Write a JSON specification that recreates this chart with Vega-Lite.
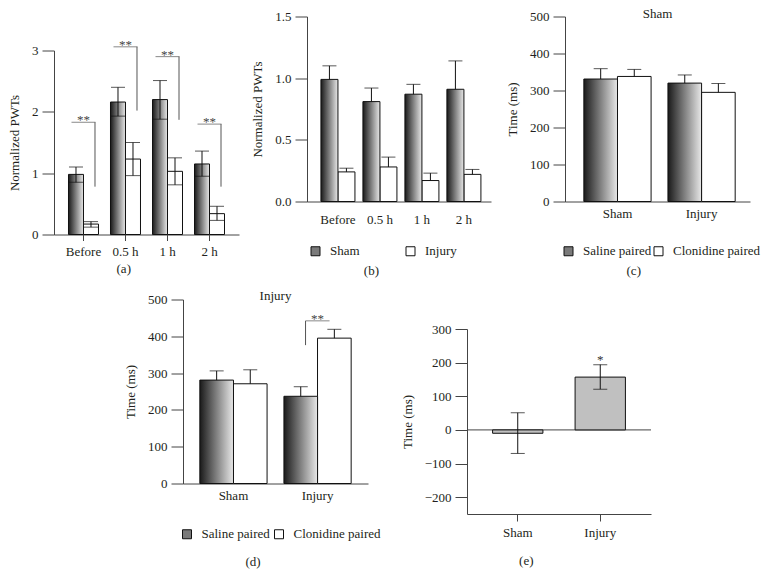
{
  "$schema": "https://vega.github.io/schema/vega-lite/v6.json",
  "padding": {"left": 8, "top": 7.5, "right": 0, "bottom": 0},
  "datasets": {
    "a": [
      {"time": "Before", "group": "Sham", "mean": 0.98, "lo": 0.85, "hi": 1.10},
      {"time": "Before", "group": "Injury", "mean": 0.17, "lo": 0.12, "hi": 0.21},
      {"time": "0.5 h", "group": "Sham", "mean": 2.16, "lo": 1.93, "hi": 2.40},
      {"time": "0.5 h", "group": "Injury", "mean": 1.23, "lo": 0.96, "hi": 1.50},
      {"time": "1 h", "group": "Sham", "mean": 2.20, "lo": 1.88, "hi": 2.51},
      {"time": "1 h", "group": "Injury", "mean": 1.03, "lo": 0.81, "hi": 1.25},
      {"time": "2 h", "group": "Sham", "mean": 1.15, "lo": 0.95, "hi": 1.36},
      {"time": "2 h", "group": "Injury", "mean": 0.34, "lo": 0.23, "hi": 0.46}
    ],
    "a_sig": [
      {"time": "Before", "top": 1.83, "low": 0.78, "label": "**"},
      {"time": "0.5 h", "top": 3.06, "low": 2.02, "label": "**"},
      {"time": "1 h", "top": 2.90, "low": 1.87, "label": "**"},
      {"time": "2 h", "top": 1.80, "low": 0.78, "label": "**"}
    ],
    "b": [
      {"time": "Before", "group": "Sham", "mean": 0.99, "hi": 1.10},
      {"time": "Before", "group": "Injury", "mean": 0.24, "hi": 0.27},
      {"time": "0.5 h", "group": "Sham", "mean": 0.81, "hi": 0.92},
      {"time": "0.5 h", "group": "Injury", "mean": 0.28, "hi": 0.36},
      {"time": "1 h", "group": "Sham", "mean": 0.87, "hi": 0.95},
      {"time": "1 h", "group": "Injury", "mean": 0.17, "hi": 0.23},
      {"time": "2 h", "group": "Sham", "mean": 0.91, "hi": 1.14},
      {"time": "2 h", "group": "Injury", "mean": 0.22, "hi": 0.26}
    ],
    "c": [
      {"cat": "Sham", "group": "Saline paired", "mean": 331, "hi": 359},
      {"cat": "Sham", "group": "Clonidine paired", "mean": 338, "hi": 357},
      {"cat": "Injury", "group": "Saline paired", "mean": 320, "hi": 342},
      {"cat": "Injury", "group": "Clonidine paired", "mean": 295, "hi": 319}
    ],
    "d": [
      {"cat": "Sham", "group": "Saline paired", "mean": 281, "hi": 306},
      {"cat": "Sham", "group": "Clonidine paired", "mean": 271, "hi": 309},
      {"cat": "Injury", "group": "Saline paired", "mean": 237, "hi": 263},
      {"cat": "Injury", "group": "Clonidine paired", "mean": 395, "hi": 419}
    ],
    "d_sig": [
      {"cat": "Injury", "top": 442, "low": 376, "label": "**"}
    ],
    "e": [
      {"cat": "Sham", "mean": -10, "lo": -70, "hi": 51},
      {"cat": "Injury", "mean": 157, "lo": 121, "hi": 194}
    ],
    "e_sig": [
      {"cat": "Injury", "top": 194, "label": "*"}
    ],
    "zero": [
      {"z": 0}
    ]
  },
  "spacing": 12,
  "resolve": {"scale": {"fill": "independent"}, "legend": {"fill": "independent"}},
  "vconcat": [
    {
      "spacing": 12,
      "resolve": {"scale": {"fill": "independent"}, "legend": {"fill": "independent"}},
      "hconcat": [
        {
          "spacing": 21,
          "vconcat": [
            {"data": {"values": []}, "mark": "point", "width": 1, "height": 1},
            {
              "width": 185,
              "height": 184,
              "data": {"name": "a"},
              "title": {"text": "(a)", "orient": "bottom", "anchor": "middle", "frame": "bounds", "offset": 4},
              "encoding": {
                "x": {"field": "time", "type": "nominal", "sort": null,
                  "scale": {"type": "band", "domain": ["Before", "0.5 h", "1 h", "2 h"], "paddingInner": 0.286, "paddingOuter": 0.345, "align": 0.5},
                  "axis": {"title": null, "labelAngle": 0, "ticks": true, "tickSize": 6, "labelPadding": 5}}
              },
              "layer": [
                {
                  "transform": [{"filter": "datum.group === 'Injury'"}],
                  "mark": {"type": "bar", "fill": "#ffffff", "stroke": "#111111", "strokeWidth": 1, "width": {"band": 0.5}, "xOffset": 7.5},
                  "encoding": {"y": {"field": "mean", "type": "quantitative", "title": "Normalized PWTs", "scale": {"domain": [0, 3], "nice": false}, "axis": {"values": [0, 1, 2, 3], "format": "d"}}}
                },
                {
                  "transform": [{"filter": "datum.group === 'Sham'"}],
                  "mark": {"type": "bar", "stroke": "#111111", "strokeWidth": 1, "width": {"band": 0.5}, "xOffset": -7.5,
                    "fill": {"gradient": "linear", "x1": 0, "y1": 0, "x2": 1, "y2": 0, "stops": [{"offset": 0, "color": "#1a1a1a"}, {"offset": 1, "color": "#e8e8e8"}]}},
                  "encoding": {"y": {"field": "mean", "type": "quantitative", "title": "Normalized PWTs", "scale": {"domain": [0, 3], "nice": false}, "axis": {"values": [0, 1, 2, 3], "format": "d"}}}
                },
                {
                  "transform": [{"filter": "datum.group === 'Sham'"}],
                  "mark": {"type": "rule", "color": "#111111", "strokeWidth": 1, "xOffset": -7.5},
                  "encoding": {"y": {"field": "lo", "type": "quantitative", "title": "Normalized PWTs", "scale": {"domain": [0, 3], "nice": false}, "axis": {"values": [0, 1, 2, 3], "format": "d"}}, "y2": {"field": "hi"}}
                },
                {
                  "transform": [{"filter": "datum.group === 'Injury'"}],
                  "mark": {"type": "rule", "color": "#111111", "strokeWidth": 1, "xOffset": 7.5},
                  "encoding": {"y": {"field": "lo", "type": "quantitative", "title": "Normalized PWTs", "scale": {"domain": [0, 3], "nice": false}, "axis": {"values": [0, 1, 2, 3], "format": "d"}}, "y2": {"field": "hi"}}
                },
                {
                  "transform": [{"filter": "datum.group === 'Sham'"}, {"fold": ["lo", "hi"], "as": ["end", "v"]}],
                  "mark": {"type": "tick", "color": "#111111", "size": 14, "thickness": 1, "xOffset": -7.5},
                  "encoding": {"y": {"field": "v", "type": "quantitative", "title": "Normalized PWTs", "scale": {"domain": [0, 3], "nice": false}, "axis": {"values": [0, 1, 2, 3], "format": "d"}}}
                },
                {
                  "transform": [{"filter": "datum.group === 'Injury'"}, {"fold": ["lo", "hi"], "as": ["end", "v"]}],
                  "mark": {"type": "tick", "color": "#111111", "size": 14, "thickness": 1, "xOffset": 7.5},
                  "encoding": {"y": {"field": "v", "type": "quantitative", "title": "Normalized PWTs", "scale": {"domain": [0, 3], "nice": false}, "axis": {"values": [0, 1, 2, 3], "format": "d"}}}
                },
                {
                  "data": {"name": "a_sig"},
                  "mark": {"type": "tick", "color": "#555555", "size": 24, "thickness": 1},
                  "encoding": {"y": {"field": "top", "type": "quantitative", "title": "Normalized PWTs", "scale": {"domain": [0, 3], "nice": false}, "axis": {"values": [0, 1, 2, 3], "format": "d"}}}
                },
                {
                  "data": {"name": "a_sig"},
                  "mark": {"type": "rule", "color": "#555555", "strokeWidth": 1, "xOffset": 11.5},
                  "encoding": {"y": {"field": "low", "type": "quantitative", "title": "Normalized PWTs", "scale": {"domain": [0, 3], "nice": false}, "axis": {"values": [0, 1, 2, 3], "format": "d"}}, "y2": {"field": "top"}}
                },
                {
                  "data": {"name": "a_sig"},
                  "mark": {"type": "text", "color": "#444444", "fontSize": 13, "baseline": "alphabetic", "dy": 2},
                  "encoding": {"y": {"field": "top", "type": "quantitative", "title": "Normalized PWTs", "scale": {"domain": [0, 3], "nice": false}, "axis": {"values": [0, 1, 2, 3], "format": "d"}}, "text": {"field": "label"}}
                }
              ]
            }
          ]
        },
        {
          "spacing": 15,
          "resolve": {"scale": {"fill": "independent"}, "legend": {"fill": "independent"}},
          "hconcat": [
            {
              "width": 184,
              "height": 185,
              "data": {"name": "b"},
              "title": {"text": "(b)", "orient": "bottom", "anchor": "middle", "frame": "bounds", "offset": 6},
              "encoding": {
                "x": {"field": "time", "type": "nominal", "sort": null,
                  "scale": {"type": "band", "domain": ["Before", "0.5 h", "1 h", "2 h"], "paddingInner": 0.19, "paddingOuter": 0.286, "align": 0.58},
                  "axis": {"title": null, "labelAngle": 0, "labelPadding": 12}}
              },
              "layer": [
                {
                  "transform": [{"filter": "datum.group === 'Injury'"}],
                  "mark": {"type": "bar", "stroke": "#111111", "strokeWidth": 1, "width": {"band": 0.5}, "xOffset": 8.5},
                  "encoding": {
                    "y": {"field": "mean", "type": "quantitative", "title": "Normalized PWTs", "scale": {"domain": [0, 1.5], "nice": false}, "axis": {"values": [0, 0.5, 1, 1.5], "format": ".1f"}},
                    "fill": {"field": "group", "type": "nominal",
                      "scale": {"domain": ["Sham", "Injury"], "range": ["#7a7a7a", "#ffffff"]},
                      "legend": {"orient": "none", "legendX": 2, "legendY": 228, "direction": "horizontal", "title": null,
                        "columnPadding": 44, "symbolType": "square", "symbolSize": 81, "symbolStrokeColor": "#111111", "symbolStrokeWidth": 1,
                        "labelFontSize": 13, "labelOffset": 8}}
                  }
                },
                {
                  "transform": [{"filter": "datum.group === 'Sham'"}],
                  "mark": {"type": "bar", "stroke": "#111111", "strokeWidth": 1, "width": {"band": 0.5}, "xOffset": -8.5,
                    "fill": {"gradient": "linear", "x1": 0, "y1": 0, "x2": 1, "y2": 0, "stops": [{"offset": 0, "color": "#1a1a1a"}, {"offset": 1, "color": "#e8e8e8"}]}},
                  "encoding": {"y": {"field": "mean", "type": "quantitative", "title": "Normalized PWTs", "scale": {"domain": [0, 1.5], "nice": false}, "axis": {"values": [0, 0.5, 1, 1.5], "format": ".1f"}}}
                },
                {
                  "transform": [{"filter": "datum.group === 'Sham'"}],
                  "mark": {"type": "rule", "color": "#111111", "strokeWidth": 1, "xOffset": -8.5},
                  "encoding": {"y": {"field": "mean", "type": "quantitative", "title": "Normalized PWTs", "scale": {"domain": [0, 1.5], "nice": false}, "axis": {"values": [0, 0.5, 1, 1.5], "format": ".1f"}}, "y2": {"field": "hi"}}
                },
                {
                  "transform": [{"filter": "datum.group === 'Injury'"}],
                  "mark": {"type": "rule", "color": "#111111", "strokeWidth": 1, "xOffset": 8.5},
                  "encoding": {"y": {"field": "mean", "type": "quantitative", "title": "Normalized PWTs", "scale": {"domain": [0, 1.5], "nice": false}, "axis": {"values": [0, 0.5, 1, 1.5], "format": ".1f"}}, "y2": {"field": "hi"}}
                },
                {
                  "transform": [{"filter": "datum.group === 'Sham'"}],
                  "mark": {"type": "tick", "color": "#111111", "size": 14, "thickness": 1, "xOffset": -8.5},
                  "encoding": {"y": {"field": "hi", "type": "quantitative", "title": "Normalized PWTs", "scale": {"domain": [0, 1.5], "nice": false}, "axis": {"values": [0, 0.5, 1, 1.5], "format": ".1f"}}}
                },
                {
                  "transform": [{"filter": "datum.group === 'Injury'"}],
                  "mark": {"type": "tick", "color": "#111111", "size": 14, "thickness": 1, "xOffset": 8.5},
                  "encoding": {"y": {"field": "hi", "type": "quantitative", "title": "Normalized PWTs", "scale": {"domain": [0, 1.5], "nice": false}, "axis": {"values": [0, 0.5, 1, 1.5], "format": ".1f"}}}
                }
              ]
            },
            {
              "title": {"text": "(c)", "orient": "bottom", "anchor": "middle", "frame": "bounds", "offset": 6},
              "resolve": {"scale": {"fill": "independent"}, "legend": {"fill": "independent"}},
              "vconcat": [
                {
                  "width": 185,
                  "height": 185,
                  "data": {"name": "c"},
                  "title": {"text": "Sham", "orient": "top", "anchor": "middle", "frame": "group", "offset": -10.3},
                  "encoding": {
                    "x": {"field": "cat", "type": "nominal", "sort": null,
                      "scale": {"type": "band", "domain": ["Sham", "Injury"], "paddingInner": 0.2, "paddingOuter": 0.2, "align": 0.56},
                      "axis": {"title": null, "labelAngle": 0, "labelPadding": 6}}
                  },
                  "layer": [
                    {
                      "transform": [{"filter": "datum.group === 'Clonidine paired'"}],
                      "mark": {"type": "bar", "stroke": "#111111", "strokeWidth": 1, "width": {"band": 0.5}, "xOffset": 16.8},
                      "encoding": {
                        "y": {"field": "mean", "type": "quantitative", "title": "Time (ms)", "scale": {"domain": [0, 500], "nice": false}, "axis": {"values": [0, 100, 200, 300, 400, 500]}},
                        "fill": {"field": "group", "type": "nominal",
                          "scale": {"domain": ["Saline paired", "Clonidine paired"], "range": ["#7a7a7a", "#ffffff"]},
                          "legend": {"orient": "none", "legendX": -3, "legendY": 228, "direction": "horizontal", "title": null,
                            "columnPadding": 0, "symbolType": "square", "symbolSize": 81, "symbolStrokeColor": "#111111", "symbolStrokeWidth": 1,
                            "labelFontSize": 13, "labelOffset": 8}}
                      }
                    },
                    {
                      "transform": [{"filter": "datum.group === 'Saline paired'"}],
                      "mark": {"type": "bar", "stroke": "#111111", "strokeWidth": 1, "width": {"band": 0.5}, "xOffset": -16.8,
                        "fill": {"gradient": "linear", "x1": 0, "y1": 0, "x2": 1, "y2": 0, "stops": [{"offset": 0, "color": "#1a1a1a"}, {"offset": 1, "color": "#e8e8e8"}]}},
                      "encoding": {"y": {"field": "mean", "type": "quantitative", "title": "Time (ms)", "scale": {"domain": [0, 500], "nice": false}, "axis": {"values": [0, 100, 200, 300, 400, 500]}}}
                    },
                    {
                      "transform": [{"filter": "datum.group === 'Saline paired'"}],
                      "mark": {"type": "rule", "color": "#111111", "strokeWidth": 1, "xOffset": -16.8},
                      "encoding": {"y": {"field": "mean", "type": "quantitative", "title": "Time (ms)", "scale": {"domain": [0, 500], "nice": false}, "axis": {"values": [0, 100, 200, 300, 400, 500]}}, "y2": {"field": "hi"}}
                    },
                    {
                      "transform": [{"filter": "datum.group === 'Clonidine paired'"}],
                      "mark": {"type": "rule", "color": "#111111", "strokeWidth": 1, "xOffset": 16.8},
                      "encoding": {"y": {"field": "mean", "type": "quantitative", "title": "Time (ms)", "scale": {"domain": [0, 500], "nice": false}, "axis": {"values": [0, 100, 200, 300, 400, 500]}}, "y2": {"field": "hi"}}
                    },
                    {
                      "transform": [{"filter": "datum.group === 'Saline paired'"}],
                      "mark": {"type": "tick", "color": "#111111", "size": 14, "thickness": 1, "xOffset": -16.8},
                      "encoding": {"y": {"field": "hi", "type": "quantitative", "title": "Time (ms)", "scale": {"domain": [0, 500], "nice": false}, "axis": {"values": [0, 100, 200, 300, 400, 500]}}}
                    },
                    {
                      "transform": [{"filter": "datum.group === 'Clonidine paired'"}],
                      "mark": {"type": "tick", "color": "#111111", "size": 14, "thickness": 1, "xOffset": 16.8},
                      "encoding": {"y": {"field": "hi", "type": "quantitative", "title": "Time (ms)", "scale": {"domain": [0, 500], "nice": false}, "axis": {"values": [0, 100, 200, 300, 400, 500]}}}
                    }
                  ]
                }
              ]
            }
          ]
        }
      ]
    },
    {
      "spacing": 69,
      "resolve": {"scale": {"fill": "independent"}, "legend": {"fill": "independent"}},
      "hconcat": [
        {"data": {"values": []}, "mark": "point", "width": 1, "height": 1},
        {
          "spacing": 19,
          "resolve": {"scale": {"fill": "independent"}, "legend": {"fill": "independent"}},
          "hconcat": [
            {
              "title": {"text": "(d)", "orient": "bottom", "anchor": "middle", "frame": "bounds", "offset": 14},
              "resolve": {"scale": {"fill": "independent"}, "legend": {"fill": "independent"}},
              "vconcat": [
                {
                  "width": 185,
                  "height": 184,
                  "data": {"name": "d"},
                  "title": {"text": "Injury", "orient": "top", "anchor": "middle", "frame": "group", "offset": -9},
                  "encoding": {
                    "x": {"field": "cat", "type": "nominal", "sort": null,
                      "scale": {"type": "band", "domain": ["Sham", "Injury"], "paddingInner": 0.2, "paddingOuter": 0.2, "align": 0.5},
                      "axis": {"title": null, "labelAngle": 0, "labelPadding": 6}}
                  },
                  "layer": [
                    {
                      "transform": [{"filter": "datum.group === 'Clonidine paired'"}],
                      "mark": {"type": "bar", "stroke": "#111111", "strokeWidth": 1, "width": {"band": 0.5}, "xOffset": 16.8},
                      "encoding": {
                        "y": {"field": "mean", "type": "quantitative", "title": "Time (ms)", "scale": {"domain": [0, 500], "nice": false}, "axis": {"values": [0, 100, 200, 300, 400, 500]}},
                        "fill": {"field": "group", "type": "nominal",
                          "scale": {"domain": ["Saline paired", "Clonidine paired"], "range": ["#7a7a7a", "#ffffff"]},
                          "legend": {"orient": "none", "legendX": -2.5, "legendY": 228, "direction": "horizontal", "title": null,
                            "columnPadding": 2, "symbolType": "square", "symbolSize": 81, "symbolStrokeColor": "#111111", "symbolStrokeWidth": 1,
                            "labelFontSize": 13, "labelOffset": 8}}
                      }
                    },
                    {
                      "transform": [{"filter": "datum.group === 'Saline paired'"}],
                      "mark": {"type": "bar", "stroke": "#111111", "strokeWidth": 1, "width": {"band": 0.5}, "xOffset": -16.8,
                        "fill": {"gradient": "linear", "x1": 0, "y1": 0, "x2": 1, "y2": 0, "stops": [{"offset": 0, "color": "#1a1a1a"}, {"offset": 1, "color": "#e8e8e8"}]}},
                      "encoding": {"y": {"field": "mean", "type": "quantitative", "title": "Time (ms)", "scale": {"domain": [0, 500], "nice": false}, "axis": {"values": [0, 100, 200, 300, 400, 500]}}}
                    },
                    {
                      "transform": [{"filter": "datum.group === 'Saline paired'"}],
                      "mark": {"type": "rule", "color": "#111111", "strokeWidth": 1, "xOffset": -16.8},
                      "encoding": {"y": {"field": "mean", "type": "quantitative", "title": "Time (ms)", "scale": {"domain": [0, 500], "nice": false}, "axis": {"values": [0, 100, 200, 300, 400, 500]}}, "y2": {"field": "hi"}}
                    },
                    {
                      "transform": [{"filter": "datum.group === 'Clonidine paired'"}],
                      "mark": {"type": "rule", "color": "#111111", "strokeWidth": 1, "xOffset": 16.8},
                      "encoding": {"y": {"field": "mean", "type": "quantitative", "title": "Time (ms)", "scale": {"domain": [0, 500], "nice": false}, "axis": {"values": [0, 100, 200, 300, 400, 500]}}, "y2": {"field": "hi"}}
                    },
                    {
                      "transform": [{"filter": "datum.group === 'Saline paired'"}],
                      "mark": {"type": "tick", "color": "#111111", "size": 14, "thickness": 1, "xOffset": -16.8},
                      "encoding": {"y": {"field": "hi", "type": "quantitative", "title": "Time (ms)", "scale": {"domain": [0, 500], "nice": false}, "axis": {"values": [0, 100, 200, 300, 400, 500]}}}
                    },
                    {
                      "transform": [{"filter": "datum.group === 'Clonidine paired'"}],
                      "mark": {"type": "tick", "color": "#111111", "size": 14, "thickness": 1, "xOffset": 16.8},
                      "encoding": {"y": {"field": "hi", "type": "quantitative", "title": "Time (ms)", "scale": {"domain": [0, 500], "nice": false}, "axis": {"values": [0, 100, 200, 300, 400, 500]}}}
                    },
                    {
                      "data": {"name": "d_sig"},
                      "mark": {"type": "tick", "color": "#555555", "size": 24, "thickness": 1},
                      "encoding": {"y": {"field": "top", "type": "quantitative", "title": "Time (ms)", "scale": {"domain": [0, 500], "nice": false}, "axis": {"values": [0, 100, 200, 300, 400, 500]}}}
                    },
                    {
                      "data": {"name": "d_sig"},
                      "mark": {"type": "rule", "color": "#555555", "strokeWidth": 1, "xOffset": -12},
                      "encoding": {"y": {"field": "low", "type": "quantitative", "title": "Time (ms)", "scale": {"domain": [0, 500], "nice": false}, "axis": {"values": [0, 100, 200, 300, 400, 500]}}, "y2": {"field": "top"}}
                    },
                    {
                      "data": {"name": "d_sig"},
                      "mark": {"type": "text", "color": "#444444", "fontSize": 13, "baseline": "alphabetic", "dy": 2},
                      "encoding": {"y": {"field": "top", "type": "quantitative", "title": "Time (ms)", "scale": {"domain": [0, 500], "nice": false}, "axis": {"values": [0, 100, 200, 300, 400, 500]}}, "text": {"field": "label"}}
                    }
                  ]
                }
              ]
            },
            {
              "spacing": 22.5,
              "vconcat": [
                {"data": {"values": []}, "mark": "point", "width": 1, "height": 1},
                {
                  "width": 184,
                  "height": 185,
                  "title": {"text": "(e)", "orient": "bottom", "anchor": "middle", "frame": "bounds", "offset": 16},
                  "encoding": {
                    "x": {"field": "cat", "type": "nominal", "sort": null,
                      "scale": {"type": "band", "domain": ["Sham", "Injury"], "paddingInner": 0.39, "paddingOuter": 0.31, "align": 0.5},
                      "axis": {"title": null, "labelAngle": 0, "ticks": true, "tickSize": 7, "labelPadding": 5}}
                  },
                  "layer": [
                    {
                      "data": {"name": "zero"},
                      "mark": {"type": "rule", "color": "#444444", "strokeWidth": 1},
                      "encoding": {
                        "x": null,
                        "y": {"field": "z", "type": "quantitative", "title": "Time (ms)", "scale": {"domain": [-250, 300], "nice": false, "zero": false}, "axis": {"values": [-200, -100, 0, 100, 200, 300]}}
                      }
                    },
                    {
                      "data": {"name": "e"},
                      "mark": {"type": "bar", "fill": "#c0c0c0", "stroke": "#111111", "strokeWidth": 1},
                      "encoding": {
                        "y": {"field": "mean", "type": "quantitative", "title": "Time (ms)", "scale": {"domain": [-250, 300], "nice": false, "zero": false}, "axis": {"values": [-200, -100, 0, 100, 200, 300]}},
                        "y2": {"datum": 0}
                      }
                    },
                    {
                      "data": {"name": "e"},
                      "mark": {"type": "rule", "color": "#111111", "strokeWidth": 1},
                      "encoding": {
                        "y": {"field": "lo", "type": "quantitative", "title": "Time (ms)", "scale": {"domain": [-250, 300], "nice": false, "zero": false}, "axis": {"values": [-200, -100, 0, 100, 200, 300]}},
                        "y2": {"field": "hi"}
                      }
                    },
                    {
                      "data": {"name": "e"},
                      "transform": [{"fold": ["lo", "hi"], "as": ["end", "v"]}],
                      "mark": {"type": "tick", "color": "#111111", "size": 14, "thickness": 1},
                      "encoding": {
                        "y": {"field": "v", "type": "quantitative", "title": "Time (ms)", "scale": {"domain": [-250, 300], "nice": false, "zero": false}, "axis": {"values": [-200, -100, 0, 100, 200, 300]}}
                      }
                    },
                    {
                      "data": {"name": "e_sig"},
                      "mark": {"type": "text", "color": "#333333", "fontSize": 13, "baseline": "alphabetic", "dy": -1},
                      "encoding": {
                        "y": {"field": "top", "type": "quantitative", "title": "Time (ms)", "scale": {"domain": [-250, 300], "nice": false, "zero": false}, "axis": {"values": [-200, -100, 0, 100, 200, 300]}},
                        "text": {"field": "label"}
                      }
                    }
                  ]
                }
              ]
            }
          ]
        }
      ]
    }
  ],
  "config": {
    "font": "Liberation Serif",
    "view": {"stroke": null},
    "axis": {
      "labelFont": "Liberation Serif", "labelFontSize": 13, "labelColor": "#231f20",
      "titleFont": "Liberation Serif", "titleFontSize": 13, "titleFontWeight": "normal", "titleColor": "#231f20",
      "domainColor": "#444444", "tickColor": "#444444", "grid": false, "labelOverlap": false
    },
    "axisY": {"tickSize": 12, "labelPadding": 4, "titlePadding": 10},
    "axisX": {"ticks": false},
    "legend": {"labelFont": "Liberation Serif", "labelFontSize": 13, "labelColor": "#231f20"},
    "title": {"font": "Liberation Serif", "fontSize": 13, "fontWeight": "normal", "color": "#231f20"}
  }
}
